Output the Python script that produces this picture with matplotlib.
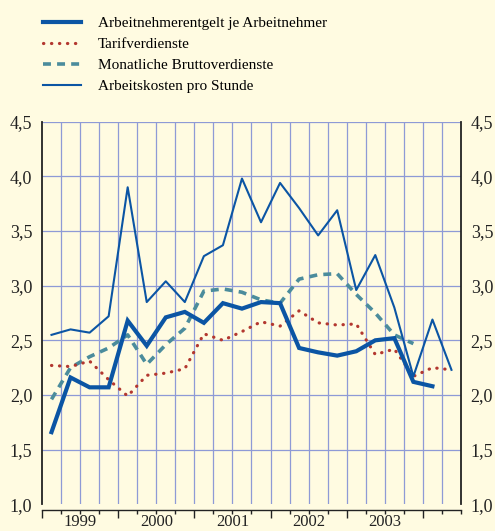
import numpy as np
import matplotlib
matplotlib.use('Agg')
import matplotlib.pyplot as plt
from matplotlib.ticker import FuncFormatter, MultipleLocator

plt.rcParams['font.family'] = ['Liberation Serif', 'DejaVu Serif']

# quarterly values, starting 1999 Q1
quarters = ['1999Q1', '1999Q2', '1999Q3', '1999Q4', '2000Q1', '2000Q2', '2000Q3', '2000Q4',
            '2001Q1', '2001Q2', '2001Q3', '2001Q4', '2002Q1', '2002Q2', '2002Q3', '2002Q4',
            '2003Q1', '2003Q2', '2003Q3', '2003Q4', '2004Q1', '2004Q2']
entgelt = [1.66, 2.16, 2.07, 2.07, 2.68, 2.45, 2.71, 2.76, 2.66, 2.84, 2.79, 2.85,
           2.84, 2.43, 2.39, 2.36, 2.40, 2.50, 2.52, 2.12, 2.08]
tarif = [2.27, 2.26, 2.31, 2.14, 1.99, 2.18, 2.20, 2.24, 2.56, 2.50, 2.58, 2.67,
         2.63, 2.77, 2.66, 2.64, 2.65, 2.37, 2.42, 2.17, 2.25, 2.23]
brutto = [1.96, 2.25, 2.35, 2.43, 2.55, 2.28, 2.46, 2.61, 2.95, 2.97, 2.94, 2.87,
          2.84, 3.06, 3.10, 3.11, 2.92, 2.75, 2.55, 2.47]
arbeitskosten = [2.55, 2.60, 2.57, 2.72, 3.90, 2.85, 3.04, 2.85, 3.27, 3.37, 3.98, 3.58,
                 3.94, 3.71, 3.46, 3.69, 2.96, 3.28, 2.80, 2.17, 2.69, 2.23]
years = ['1999', '2000', '2001', '2002', '2003']
labels = ['Arbeitnehmerentgelt je Arbeitnehmer', 'Tarifverdienste',
          'Monatliche Bruttoverdienste', 'Arbeitskosten pro Stunde']

bg = '#fffbe1'
blue = '#0b55a4'
teal = '#4b8c9c'
red = '#b3372f'
grid = '#8e9ad6'
ink = '#222222'

fig = plt.figure(figsize=(4.95, 5.31), dpi=100, facecolor=bg)
ax = fig.add_axes([0.0848, 0.0503, 0.8465, 0.7205], facecolor=bg)

def xs(vals):
    return np.arange(len(vals)) + 0.5

h1, = ax.plot(xs(entgelt), entgelt, color=blue, lw=3.0, solid_joinstyle='miter', zorder=5)
h2, = ax.plot(xs(tarif), tarif, color=red, lw=2.3, linestyle=(0, (0.1, 2.4)),
              dash_capstyle='round', zorder=3)
h3, = ax.plot(xs(brutto), brutto, color=teal, lw=2.6, linestyle=(0, (2.2, 1.7)), zorder=2)
h4, = ax.plot(xs(arbeitskosten), arbeitskosten, color=blue, lw=1.5, zorder=4)

ax.set_xlim(0, len(quarters))
ax.set_ylim(1.0, 4.5)

# grid
for x in range(1, len(quarters)):
    ax.axvline(x, color=grid, lw=0.9, zorder=1)
for y in np.arange(1.5, 4.51, 0.5):
    ax.axhline(y, color=grid, lw=0.9, zorder=1)

ax.yaxis.set_major_locator(MultipleLocator(0.5))
ax.yaxis.set_major_formatter(FuncFormatter(lambda v, p: f'{v:.1f}'.replace('.', ',')))
ax.tick_params(axis='y', length=0, labelsize=13, pad=7, colors=ink,
               labelright=True, right=False)

ax.spines['top'].set_visible(False)
for s in ['left', 'right']:
    ax.spines[s].set_color(ink)
    ax.spines[s].set_linewidth(1.3)
ax.spines['bottom'].set_position(('outward', 4))
ax.spines['bottom'].set_color(ink)
ax.spines['bottom'].set_linewidth(1.0)

ax.set_xticks([0, 4, 8, 12, 16, 20])
ax.set_xticks([q for q in range(1, len(quarters) + 1) if q % 4 != 0], minor=True)
ax.set_xticklabels([])
ax.tick_params(axis='x', which='major', length=6, width=1.0, direction='out', colors=ink)
ax.tick_params(axis='x', which='minor', length=3, width=1.0, direction='out', colors=ink)

# year labels centred in each year (kept just inside the bottom edge)
for i, yr in enumerate(years):
    ax.text(i * 4 + 2, -0.068, yr, transform=ax.get_xaxis_transform(),
            ha='center', va='bottom', fontsize=12, color=ink)

fig.legend([h1, h2, h3, h4], labels, loc='upper left', bbox_to_anchor=(0.075, 0.98),
           frameon=False, fontsize=11, handlelength=2.5, handletextpad=1.1,
           labelspacing=0.47, borderaxespad=0)

fig.savefig('out.png', dpi=100, facecolor=bg)
